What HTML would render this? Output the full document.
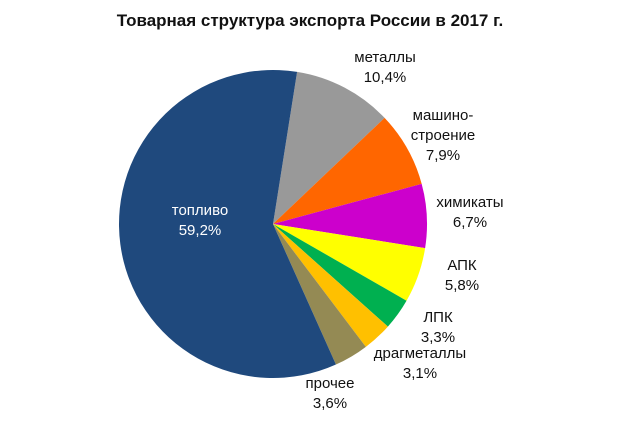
<!DOCTYPE html>
<html><head><meta charset="utf-8"><style>
body{margin:0;background:#fff;width:620px;height:437px;overflow:hidden}
svg{display:block;font-family:"Liberation Sans",Arial,sans-serif}
</style></head><body>
<svg width="620" height="437">
<text x="310" y="26" text-anchor="middle" font-size="17" font-weight="bold" fill="#111">Товарная структура экспорта России в 2017 г.</text>
<g id="slices"></g>
<g id="labels"></g>
</svg>
<script>
const categories=["металлы","машиностроение","химикаты","АПК","ЛПК","драгметаллы","прочее","топливо"];
const values=[10.4,7.9,6.7,5.8,3.3,3.1,3.6,59.2];
const valueLabels=["10,4%","7,9%","6,7%","5,8%","3,3%","3,1%","3,6%","59,2%"];
const colors=["#999999","#ff6600","#cc00cc","#ffff00","#00b050","#ffc000","#948a54","#1f497d"];
const labelLines=[["металлы"],["машино-","строение"],["химикаты"],["АПК"],["ЛПК"],["драгметаллы"],["прочее"],["топливо"]];
const labelPos=[[385,62],[443,120],[470,207],[462,270],[438,322],[420,358],[330,388],[200,215]];
const cx=273,cy=224,r=154,start=9;
const ns="http://www.w3.org/2000/svg";
const g=document.getElementById('slices'),lg=document.getElementById('labels');
const total=values.reduce((a,b)=>a+b,0);
let a=start;
function pt(deg){const t=deg*Math.PI/180;return [cx+r*Math.sin(t),cy-r*Math.cos(t)];}
values.forEach((v,i)=>{
 const sweep=v/total*360,b=a+sweep;
 const p1=pt(a),p2=pt(b);
 const p=document.createElementNS(ns,'path');
 p.setAttribute('d',`M${cx},${cy}L${p1[0]},${p1[1]}A${r},${r} 0 ${sweep>180?1:0} 1 ${p2[0]},${p2[1]}Z`);
 p.setAttribute('fill',colors[i]);
 
 
 g.appendChild(p);
 a=b;
 const lines=labelLines[i].concat([valueLabels[i]]);
 const [lx,ly]=labelPos[i];
 const t=document.createElementNS(ns,'text');
 t.setAttribute('text-anchor','middle');
 t.setAttribute('font-size','15');
 t.setAttribute('fill',i===7?'#fff':'#111');
 
 
 lines.forEach((s,k)=>{const ts=document.createElementNS(ns,'tspan');ts.setAttribute('x',lx);ts.setAttribute('y',ly+k*20);ts.textContent=s;t.appendChild(ts);});
 lg.appendChild(t);
});
</script>
</body></html>
